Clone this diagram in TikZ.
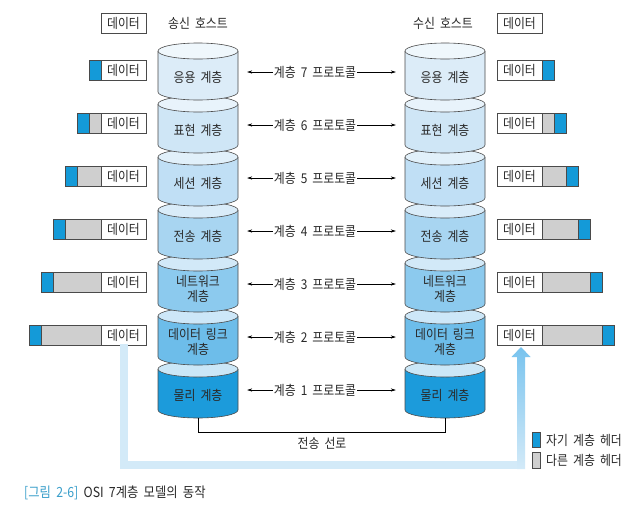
\documentclass[tikz,border=0pt]{standalone}
\usepackage{fontspec}
\setmainfont{Noto Sans CJK KR}[FakeStretch=0.88,WordSpace=1.9]
\usetikzlibrary{arrows.meta}
\definecolor{txtc}{HTML}{2A2A2A}
\definecolor{edgec}{HTML}{4A4A4A}
\definecolor{hblue}{HTML}{149AD8}
\definecolor{hgray}{HTML}{CFCFCF}
\definecolor{capblue}{HTML}{3A9FCB}
\definecolor{flowc}{HTML}{D3EAF8}
\definecolor{flowtop}{HTML}{78C3EE}
\definecolor{b1}{HTML}{DCECF8}\definecolor{t1}{HTML}{EFF7FC}
\definecolor{b2}{HTML}{CFE6F6}\definecolor{t2}{HTML}{E8F3FB}
\definecolor{b3}{HTML}{C0DFF5}\definecolor{t3}{HTML}{E1F0FA}
\definecolor{b4}{HTML}{A8D5F1}\definecolor{t4}{HTML}{D9ECF9}
\definecolor{b5}{HTML}{8CCAEE}\definecolor{t5}{HTML}{D2E9F8}
\definecolor{b6}{HTML}{6DBDEA}\definecolor{t6}{HTML}{CDE7F8}
\definecolor{b7}{HTML}{1C9BDB}\definecolor{t7}{HTML}{CBE7F7}
\begin{document}
\begin{tikzpicture}[x=1pt,y=-1pt,
  font=\fontsize{13.5}{15}\selectfont,
  every node/.style={text=txtc},
  cyledge/.style={draw=edgec, line width=0.6pt},
  lab/.style={inner sep=1pt, align=center},
  anchorbox/.style={minimum width=80pt, minimum height=57pt, inner sep=0pt},
  databox/.style={draw=edgec, line width=0.6pt, fill=white, minimum width=45pt, minimum height=20pt, inner sep=0pt},
  hdrline/.style={draw=edgec, line width=0.6pt},
  proto/.style={draw=black, line width=0.5pt, -{Stealth[length=5pt,width=3.2pt]}},
  flowline/.style={draw=flowc, line width=8pt}]
\useasboundingbox (0,0) rectangle (644,512);
\fill[white] (0,0) rectangle (644,512);

\coordinate (fc) at (521,465);

% cylinders, drawn bottom-up
\foreach \i in {7,6,...,1}{
  \pgfmathsetmacro\yt{51+53*(\i-1)}
  \foreach \cx in {198,445}{
    \fill[b\i] (\cx-40,\yt) -- (\cx-40,\yt+41) arc[start angle=180,end angle=360,x radius=40pt,y radius=8pt] -- (\cx+40,\yt) -- cycle;
    \draw[cyledge] (\cx-40,\yt) -- (\cx-40,\yt+41) arc[start angle=180,end angle=360,x radius=40pt,y radius=8pt] -- (\cx+40,\yt);
    \draw[cyledge, fill=t\i] (\cx,\yt) ellipse [x radius=40pt, y radius=8pt];
  }
  \node[anchorbox] (Lcyl\i) at (198,\yt+20.5) {};
  \node[anchorbox] (Rcyl\i) at (445,\yt+20.5) {};
}

\foreach \i/\t in {1/응용 계층,2/표현 계층,3/세션 계층,4/전송 계층,5/{네트워크\\계층},6/{데이터 링크\\계층},7/물리 계층}{
  \pgfmathsetmacro\yt{51+53*(\i-1)}
  \node[lab] (Lt\i) at (198,\yt+26) {\t};
  \node[lab] (Rt\i) at (445,\yt+26) {\t};
  \pgfmathtruncatemacro\n{8-\i}
  \node[lab] (P\i) at (315,\yt+21) {계층 \n\ 프로토콜};
  \draw[proto, shorten >=9pt] (P\i.west) -- (P\i.west -| Lcyl\i.east);
  \draw[proto, shorten >=9pt] (P\i.east) -- (P\i.east -| Rcyl\i.west);
}

% top data boxes and titles
\node[databox] (LD0) at (123.5,23) {데이터};
\node[databox] (RD0) at (519.5,23) {데이터};
\node[lab] (sendh) at (198,23) {송신 호스트};
\node[lab] (recvh) at (443,23) {수신 호스트};

% data boxes with headers
\foreach \i in {1,...,6}{
  \pgfmathsetmacro\yt{51+53*(\i-1)}
  \draw[hdrline, fill=hgray] (101-12*\i+12,\yt+9) rectangle (101,\yt+29);
  \draw[hdrline, fill=hblue] (101-12*\i,\yt+9) rectangle (101-12*\i+12,\yt+29);
  \node[databox] (LD\i) at (123.5,\yt+19) {데이터};
  \draw[hdrline, fill=hgray] (542,\yt+9) rectangle (542+12*\i-12,\yt+29);
  \draw[hdrline, fill=hblue] (542+12*\i-12,\yt+9) rectangle (542+12*\i,\yt+29);
  \node[databox] (RD\i) at (519.5,\yt+19) {데이터};
}

% flow path
\draw[flowline] ([yshift=1pt]LD6.south) |- ([xshift=4pt]fc);
\shade[top color=flowtop, bottom color=flowc]
  (517,469) -- (517,357) -- (511.5,357) -- (521,347) -- (530.5,357) -- (525,357) -- (525,469) -- cycle;

% transmission line
\coordinate (tl) at (198,432);
\draw[black, line width=0.6pt] (Lcyl7.south) -- (tl) -| (Rcyl7.south);
\node[lab] (tline) at (322,443) {전송 선로};

% legend
\draw[hdrline, fill=hblue] (532,432) rectangle (540,447);
\node[lab, anchor=west] (lg1) at (545,440) {자기 계층 헤더};
\draw[hdrline, fill=hgray] (532,452) rectangle (540,468);
\node[lab, anchor=west] (lg2) at (545,460) {다른 계층 헤더};

% caption
\node[lab, anchor=west, font=\fontsize{14}{16}\selectfont] (cap) at (23,493) {\textcolor{capblue}{[그림 2-6]} OSI 7계층 모델의 동작};
\end{tikzpicture}
\end{document}
